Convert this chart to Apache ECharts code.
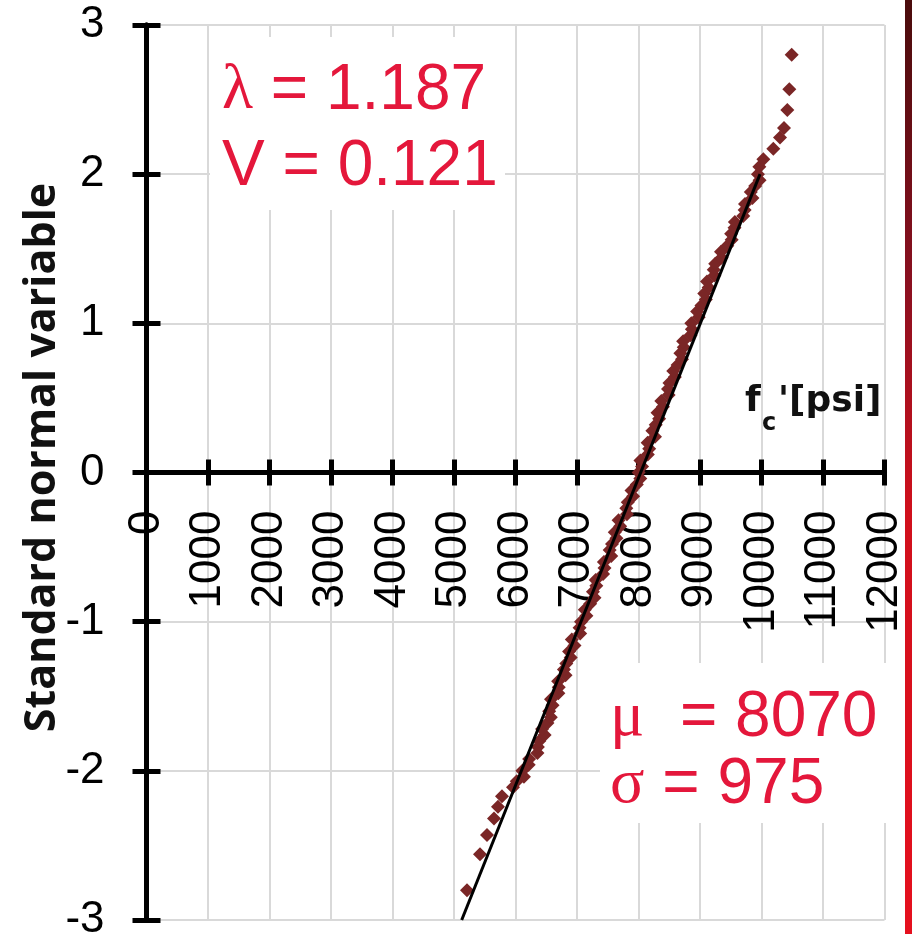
<!DOCTYPE html>
<html>
<head>
<meta charset="utf-8">
<script src="https://cdn.jsdelivr.net/npm/echarts@6/dist/echarts.min.js"></script>
<style>
  html, body { margin: 0; padding: 0; background: #fff; }
  #chart { width: 912px; height: 934px; }
</style>
</head>
<body>
<div id="chart"></div>
<script>
// compressive strength fc' [psi] of each specimen
const strength = [
  5211, 5423, 5537, 5650, 5715, 5780, 5959, 6020,
  6137, 6111, 6215, 6222, 6357, 6364, 6387, 6474, 6432, 6519,
  6574, 6548, 6603, 6577, 6697, 6703, 6693, 6814, 6788, 6826,
  6897, 6871, 6959, 6916, 7052, 7042, 7065, 7153, 7127, 7214,
  7285, 7259, 7314, 7304, 7424, 7447, 7437, 7557, 7531, 7569,
  7641, 7614, 7702, 7676, 7812, 7802, 7825, 7913, 7886, 7973,
  8029, 8002, 8058, 8032, 8151, 8174, 8148, 8268, 8226, 8280,
  8335, 8309, 8397, 8371, 8490, 8480, 8503, 8591, 8565, 8635,
  8707, 8681, 8736, 8726, 8846, 8868, 8859, 8979, 8953, 9023,
  9095, 9069, 9140, 9114, 9234, 9224, 9247, 9351, 9341, 9444,
  9515, 9506, 9561, 9567, 9703, 9726, 9732, 9853, 9826, 9897,
  9969, 9942,
  9965, 10030, 10192, 10301, 10366, 10420, 10452, 10491
];
// standard normal variable of each specimen
const normalVar = [
  -2.80, -2.56, -2.43, -2.32, -2.24, -2.17, -2.11, -2.07,
  -2.04, -2.00, -1.96, -1.92, -1.88, -1.84, -1.80, -1.76, -1.72, -1.68,
  -1.64, -1.60, -1.56, -1.52, -1.48, -1.44, -1.40, -1.36, -1.32, -1.28,
  -1.24, -1.20, -1.16, -1.12, -1.08, -1.04, -1.00, -0.96, -0.92, -0.88,
  -0.84, -0.80, -0.76, -0.72, -0.68, -0.64, -0.60, -0.56, -0.52, -0.48,
  -0.44, -0.40, -0.36, -0.32, -0.28, -0.24, -0.20, -0.16, -0.12, -0.08,
  -0.04, 0.00, 0.04, 0.08, 0.12, 0.16, 0.20, 0.24, 0.28, 0.32,
  0.36, 0.40, 0.44, 0.48, 0.52, 0.56, 0.60, 0.64, 0.68, 0.72,
  0.76, 0.80, 0.84, 0.88, 0.92, 0.96, 1.00, 1.04, 1.08, 1.12,
  1.16, 1.20, 1.24, 1.28, 1.32, 1.36, 1.40, 1.44, 1.48, 1.52,
  1.56, 1.60, 1.64, 1.68, 1.72, 1.76, 1.80, 1.84, 1.88, 1.92,
  1.96, 2.00,
  2.05, 2.10, 2.17, 2.245, 2.31, 2.43, 2.57, 2.80
];
// fitted normal line (end points)
const fitX = [5125, 9976];
const fitZ = [-3, 2];

const statsTop = ['{g|λ}{s| = 1.187}', '{s|V = 0.121}'];
const statsBottom = ['{g|μ}{s|  = 8070}', '{g|σ}{s| = 975}'];

const points = strength.map((v, i) => [v, normalVar[i]]);
const fitLine = fitX.map((v, i) => [v, fitZ[i]]);

const chart = echarts.init(document.getElementById('chart'));

const black = '#000';
const red = '#e4173b';
// the x axis sits at y = 0, half way up the plot (895px tall)
const xShift = -447.5;
const lineStyle = { color: black, width: 5 };
const tick = { show: true, length: 13, lineStyle: { color: black, width: 5 } };
const grid = { show: true, lineStyle: { color: '#d9d9d9', width: 2 } };
const numFont = { fontSize: 44, fontFamily: 'Liberation Sans', color: black, formatter: v => String(v) };

const rich = {
  g: { fontFamily: 'Liberation Serif', fontSize: 64, fill: red },
  s: { fontFamily: 'Liberation Sans', fontSize: 64, fill: red }
};

chart.setOption({
  animation: false,
  grid: { left: 146.5, right: 27.5, top: 25, bottom: 14, containLabel: false, outerBoundsMode: 'none' },
  xAxis: [
    {
      type: 'value', min: 0, max: 12000, interval: 1000, position: 'bottom', offset: xShift,
      axisLine: { onZero: false, lineStyle: lineStyle }, axisTick: tick, splitLine: grid,
      axisLabel: Object.assign({ rotate: 90, margin: 38 }, numFont)
    },
    {
      type: 'value', min: 0, max: 12000, interval: 1000, position: 'top', offset: xShift,
      axisLine: { onZero: false, lineStyle: lineStyle }, axisTick: tick,
      axisLabel: { show: false }, splitLine: { show: false }
    }
  ],
  yAxis: [
    {
      type: 'value', min: -3, max: 3, interval: 1, position: 'left',
      axisLine: { onZero: false, lineStyle: lineStyle }, axisTick: Object.assign({}, tick, { length: 14 }), splitLine: grid,
      axisLabel: Object.assign({ margin: 42 }, numFont),
      name: 'Standard normal variable', nameLocation: 'middle', nameGap: 82, nameMoveOverlap: false,
      nameTextStyle: { fontFamily: 'Open Sans', fontWeight: 'bold', fontSize: 43, color: '#111', padding: [0, 0, 0, 30] }
    },
    {
      type: 'value', min: -3, max: 3, interval: 1, position: 'right', offset: -738,
      axisLine: { onZero: false, lineStyle: lineStyle }, axisTick: Object.assign({}, tick, { length: 14 }),
      axisLabel: { show: false }, splitLine: { show: false }
    }
  ],
  series: [
    {
      type: 'scatter', data: points, symbol: 'diamond', symbolSize: 14,
      itemStyle: { color: '#7a2626', opacity: 1 }, z: 2
    },
    {
      type: 'line', data: fitLine, symbol: 'none', z: 3,
      lineStyle: { color: black, width: 3 }
    }
  ],
  graphic: [
    { type: 'rect', z: 1, silent: true, shape: { x: 210, y: 37, width: 295, height: 173 }, style: { fill: '#fff' } },
    { type: 'rect', z: 1, silent: true, shape: { x: 600, y: 663, width: 290, height: 160 }, style: { fill: '#fff' } },
    { type: 'text', z: 10, x: 222, y: 91, style: { text: statsTop[0], rich: rich, verticalAlign: 'middle' } },
    { type: 'text', z: 10, x: 222, y: 167, style: { text: statsTop[1], rich: rich, verticalAlign: 'middle' } },
    { type: 'text', z: 10, x: 610, y: 718, style: { text: statsBottom[0], rich: rich, verticalAlign: 'middle' } },
    { type: 'text', z: 10, x: 610, y: 785, style: { text: statsBottom[1], rich: rich, verticalAlign: 'middle' } },
    { type: 'text', z: 10, x: 745, y: 420, style: { text: 'f', font: 'bold 36px "DejaVu Sans"', fill: '#111', verticalAlign: 'bottom' } },
    { type: 'text', z: 10, x: 762, y: 436, style: { text: 'c', font: 'bold 24px "DejaVu Sans"', fill: '#111', verticalAlign: 'bottom' } },
    { type: 'text', z: 10, x: 778, y: 420, style: { text: "'[psi]", font: 'bold 36px "DejaVu Sans"', fill: '#111', verticalAlign: 'bottom' } },
    {
      type: 'rect', z: 10, silent: true, shape: { x: 905, y: 0, width: 7, height: 934 },
      style: {
        fill: new echarts.graphic.LinearGradient(0, 0, 0, 1, [
          { offset: 0, color: '#4a0c0c' },
          { offset: 0.3, color: '#8a1020' },
          { offset: 0.55, color: '#d0101c' },
          { offset: 1, color: '#e5101e' }
        ])
      }
    }
  ]
});

window.addEventListener('resize', chart.resize);
</script>
</body>
</html>
